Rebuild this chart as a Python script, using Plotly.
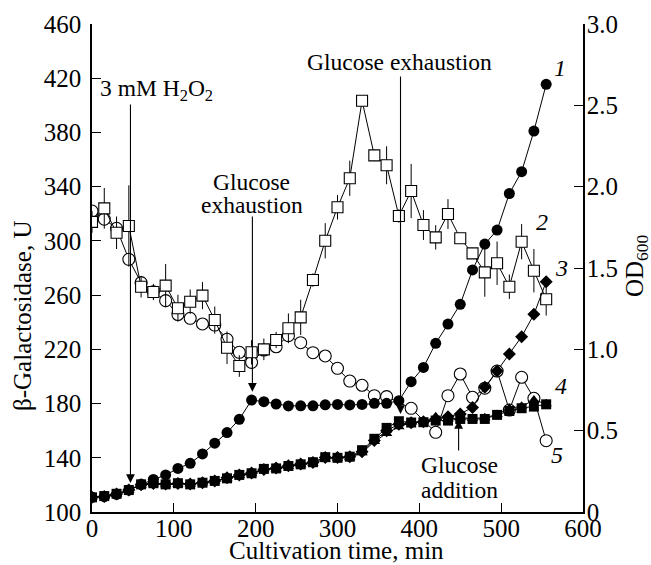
import plotly.graph_objects as go

# ---------------- data ----------------
t_full = [0, 15, 30, 45, 60, 75, 90, 105, 120, 135, 150, 165, 180, 195, 210, 225, 240, 255,
          270, 285, 300, 315, 330, 345, 360, 375, 390, 405, 420, 435, 450, 465, 480, 495,
          510, 525, 540, 555]

# OD600 (right axis)
od_circles = [0.090, 0.094, 0.108, 0.135, 0.170, 0.200, 0.228, 0.268, 0.299, 0.357, 0.423, 0.488,
              0.570, 0.688, 0.678, 0.664, 0.652, 0.653, 0.653, 0.659, 0.661, 0.658, 0.661, 0.668,
              0.668, 0.684, 0.801, 0.889, 1.037, 1.155, 1.277, 1.488, 1.647, 1.733, 1.958, 2.092,
              2.342, 2.629]
od_diamonds = [0.090, 0.095, 0.110, 0.135, 0.168, 0.175, 0.172, 0.175, 0.172, 0.180, 0.190, 0.210,
               0.228, 0.240, 0.262, 0.270, 0.285, 0.295, 0.305, 0.335, 0.335, 0.340, 0.370, 0.440,
               0.500, 0.540, 0.548, 0.555, 0.570, 0.585, 0.603, 0.643, 0.767, 0.867, 0.972, 1.078,
               1.215, 1.416]
od_triangles = [0.090, 0.098, 0.110, 0.133, 0.165, 0.172, 0.168, 0.172, 0.172, 0.178, 0.190, 0.205,
                0.225, 0.235, 0.260, 0.265, 0.280, 0.290, 0.300, 0.325, 0.330, 0.335, 0.364, 0.433,
                0.483, 0.524, 0.550, 0.555, 0.586, 0.570, 0.580, 0.575, 0.580, 0.600, 0.638, 0.650,
                0.688, 0.665]
od_squares = [0.090, 0.098, 0.112, 0.135, 0.170, 0.177, 0.170, 0.177, 0.170, 0.180, 0.191, 0.207,
              0.228, 0.238, 0.265, 0.268, 0.283, 0.293, 0.306, 0.337, 0.333, 0.340, 0.380, 0.450,
              0.517, 0.558, 0.550, 0.552, 0.562, 0.562, 0.572, 0.572, 0.572, 0.597, 0.621, 0.638,
              0.648, 0.662]

# beta-galactosidase, U (left axis)
bgal_squares = [314, 324, 306, 311, 266.2, 262.3, 267.0, 250.3, 255.1, 259.6, 241.6, 221.2, 207.7,
                217.8, 220.0, 226.9, 235.5, 243.6, 271.1, 300.1, 324.8, 346.2, 403.4, 363.1, 355.8,
                318.4, 336.8, 311.7, 302.6, 319.8, 301.9, 290.8, 276.8, 283.5, 266.2, 299.4, 278.0,
                256.9]
bgal_squares_err = [8, 15, 12, 30, 8, 6, 16, 10, 9, 10, 10, 12, 8, 9, 8, 6, 11, 13, 5, 13, 9, 13,
                    3, 4, 14, 5, 20, 11, 9, 11, 3, 3, 18, 16, 9, 13, 16, 12]

t_open_circles = [0, 15, 30, 45, 60, 75, 90, 105, 120, 135, 150, 165, 180, 195, 210, 225, 240,
                  255, 270, 285, 300, 315, 330, 345, 360, 390, 420, 435, 450, 465, 480, 495, 510,
                  525, 540, 555]
bgal_circles = [322, 316, 309.3, 286.4, 269.2, 262.5, 255.9, 245.7, 242.9, 238.7, 237.9, 227.4,
                217.8, 210.4, 219.5, 221.9, 230.1, 224.9, 217.5, 215.1, 206.0, 196.6, 193.5, 185.8,
                185.1, 176.5, 158.8, 185.8, 201.8, 184.6, 191.3, 204.0, 175.2, 199.4, 183.9, 152.6]

x_ticks = [0, 100, 200, 300, 400, 500, 600]
y_ticks = [100, 140, 180, 220, 260, 300, 340, 380, 420, 460]
y2_ticks = [0, 0.5, 1.0, 1.5, 2.0, 2.5, 3.0]
y2_ticktext = ["0", "0.5", "1.0", "1.5", "2.0", "2.5", "3.0"]

series_labels = ["1", "2", "3", "4", "5"]

# ---------------- figure ----------------
FONT = "Liberation Serif"
W, H = 651, 565
ML, MR, MT, MB = 92, 68, 24, 53
PW, PH = W - ML - MR, H - MT - MB

fig = go.Figure()
line = dict(color="black", width=1)

fig.add_trace(go.Scatter(
    x=t_open_circles, y=bgal_circles, mode="lines+markers", line=line,
    marker=dict(symbol="circle", size=12, color="white", line=dict(color="black", width=1.1)),
    yaxis="y", showlegend=False))
fig.add_trace(go.Scatter(
    x=t_full, y=bgal_squares, mode="lines+markers", line=line,
    error_y=dict(type="data", array=bgal_squares_err, color="black", thickness=1, width=0),
    marker=dict(symbol="square", size=11, color="white", line=dict(color="black", width=1.1)),
    yaxis="y", showlegend=False))
fig.add_trace(go.Scatter(
    x=t_full, y=od_triangles, mode="lines+markers", line=line,
    marker=dict(symbol="triangle-up", size=10, color="black"),
    yaxis="y2", showlegend=False))
fig.add_trace(go.Scatter(
    x=t_full, y=od_diamonds, mode="lines+markers", line=line,
    marker=dict(symbol="diamond", size=10, color="black"),
    yaxis="y2", showlegend=False))
fig.add_trace(go.Scatter(
    x=t_full, y=od_squares, mode="lines+markers", line=line,
    marker=dict(symbol="square", size=10, color="black"),
    yaxis="y2", showlegend=False))
fig.add_trace(go.Scatter(
    x=t_full, y=od_circles, mode="lines+markers", line=line,
    marker=dict(symbol="circle", size=11, color="black"),
    yaxis="y2", showlegend=False))

axis_common = dict(showgrid=False, zeroline=False, showline=True, linecolor="black",
                   linewidth=1.5, ticks="inside", ticklen=9, tickwidth=1.3, tickcolor="black",
                   tickfont=dict(family=FONT, size=25, color="black"))

fig.update_layout(
    width=W, height=H, autosize=False,
    margin=dict(l=ML, r=MR, t=MT, b=MB, pad=0),
    plot_bgcolor="white", paper_bgcolor="white",
    font=dict(family=FONT, size=23.5, color="black"),
    xaxis=dict(range=[0, 600], tickvals=x_ticks, ticklabelstandoff=-7, **axis_common),
    yaxis=dict(range=[100, 460], tickvals=y_ticks, ticklabelstandoff=4, **axis_common),
    yaxis2=dict(range=[0, 3], tickvals=y2_ticks, ticktext=y2_ticktext, overlaying="y",
                side="right", ticklabelstandoff=-3, **axis_common),
)

ann = []

def text(x, y, s, xanchor="center", size=23.5):
    ann.append(dict(x=x, y=y, xref="x", yref="y", text=s, showarrow=False, xanchor=xanchor,
                    yanchor="middle", font=dict(family=FONT, size=size, color="black")))

def arrow(x, y_tip, y_tail):
    ann.append(dict(x=x, y=y_tip, xref="x", yref="y", ax=x, ay=y_tail, axref="x", ayref="y",
                    text="", showarrow=True, arrowhead=2, arrowsize=1.6, arrowwidth=1.1,
                    arrowcolor="black", standoff=0))

def paper_text(px, py, s, angle=0, size=25):
    ann.append(dict(x=(px - ML) / PW, y=(H - MB - py) / PH, xref="paper", yref="paper",
                    text=s, showarrow=False, textangle=angle, xanchor="center",
                    yanchor="middle", font=dict(family=FONT, size=size, color="black")))

text(7.0, 411.3, "3 mM H<sub>2</sub>O<sub>2</sub>", xanchor="left")
arrow(47, 121.4, 401.7)
text(195.5, 343.5, "Glucose")
text(195.5, 326.5, "exhaustion")
arrow(196, 188.7, 319.1)
text(376, 432.0, "Glucose exhaustion")
arrow(377, 172.3, 422.4)
text(449, 134.6, "Glucose")
text(449, 116.2, "addition")
arrow(448, 167.9, 144.3)

lab_pos = [(571.6, 427.5), (549.7, 313.9), (574, 280), (573, 193), (568, 142)]
for s, (x, y) in zip(series_labels, lab_pos):
    text(x, y, "<i>" + s + "</i>", size=24)

paper_text(336, 550, "Cultivation time, min", size=25)
paper_text(22, 316, "β-Galactosidase, U", angle=-90, size=25)
paper_text(636, 266, "OD<sub>600</sub>", angle=-90, size=25)

fig.update_layout(annotations=ann)
fig.write_html("out.html")
